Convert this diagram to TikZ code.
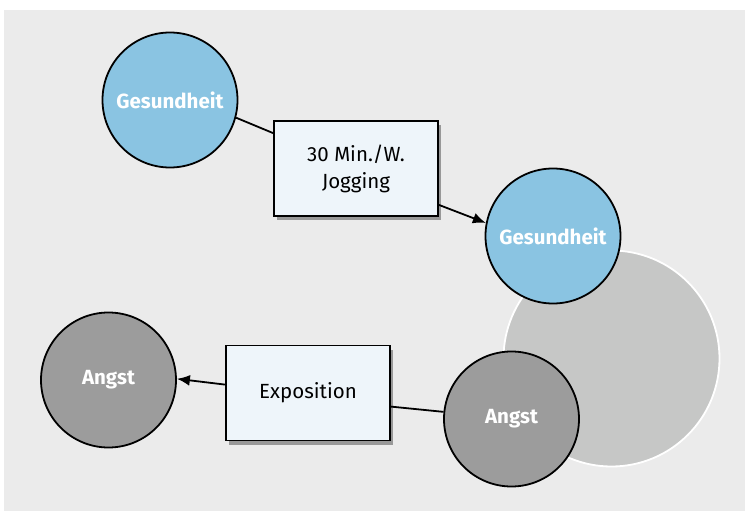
\documentclass[tikz,border=0pt]{standalone}
\usepackage{fontspec}
\setmainfont{Fira Sans}
\usetikzlibrary{shadows,arrows.meta,calc}
\definecolor{bgc}{HTML}{EBEBEB}
\definecolor{bluec}{HTML}{8AC4E2}
\definecolor{angstc}{HTML}{9C9C9C}
\definecolor{bigc}{HTML}{C6C7C6}
\definecolor{boxc}{HTML}{EEF5FA}
\tikzset{
  circ/.style={circle, draw=black, line width=1.8pt, inner sep=0pt, minimum size=135pt,
    text=white, font=\fontsize{20.5}{25}\selectfont\bfseries},
  gcirc/.style={circ, fill=bluec},
  acirc/.style={circ, fill=angstc},
  stepbox/.style={rectangle, draw=black, line width=1.8pt, fill=boxc, minimum width=164pt,
    minimum height=95pt, inner sep=2pt, align=center, font=\fontsize{20.5}{27}\selectfont,
    drop shadow={shadow xshift=3pt, shadow yshift=-4pt, fill=black, opacity=0.35}},
  conn/.style={line width=1.8pt, draw=black},
  arr/.style={conn, -{Latex[length=13pt,width=11pt]}}
}
\begin{document}
\begin{tikzpicture}[x=1pt,y=-1pt]
\useasboundingbox (0,0) rectangle (745,511);
\fill[bgc] (4,10) rectangle (745,511);
\node[circle, fill=bigc, draw=white, line width=1.8pt, minimum size=216pt, inner sep=0pt] (big) at (611.5,358.5) {};
\node[gcirc] (g1) at (170,100) {Gesundheit};
\node[gcirc] (g2) at (553,236) {Gesundheit};
\node[acirc] (a1) at (108.5,380) {Angst};
\node[acirc] (a2) at (511.5,419) {Angst};
\node[stepbox] (jog) at (356,168.5) {30 Min./W.\\Jogging};
\node[stepbox] (exp) at (308,393) {Exposition};
\draw[conn] (g1.-15) -- ([yshift=-13pt]jog.north west);
\draw[arr] ([yshift=12pt]jog.south east) -- (g2.169);
\draw[arr] ([yshift=-40pt]exp.north west) -- (a1.1);
\draw[conn] ([yshift=-62pt]exp.north east) -- (a2.174);
\end{tikzpicture}
\end{document}
